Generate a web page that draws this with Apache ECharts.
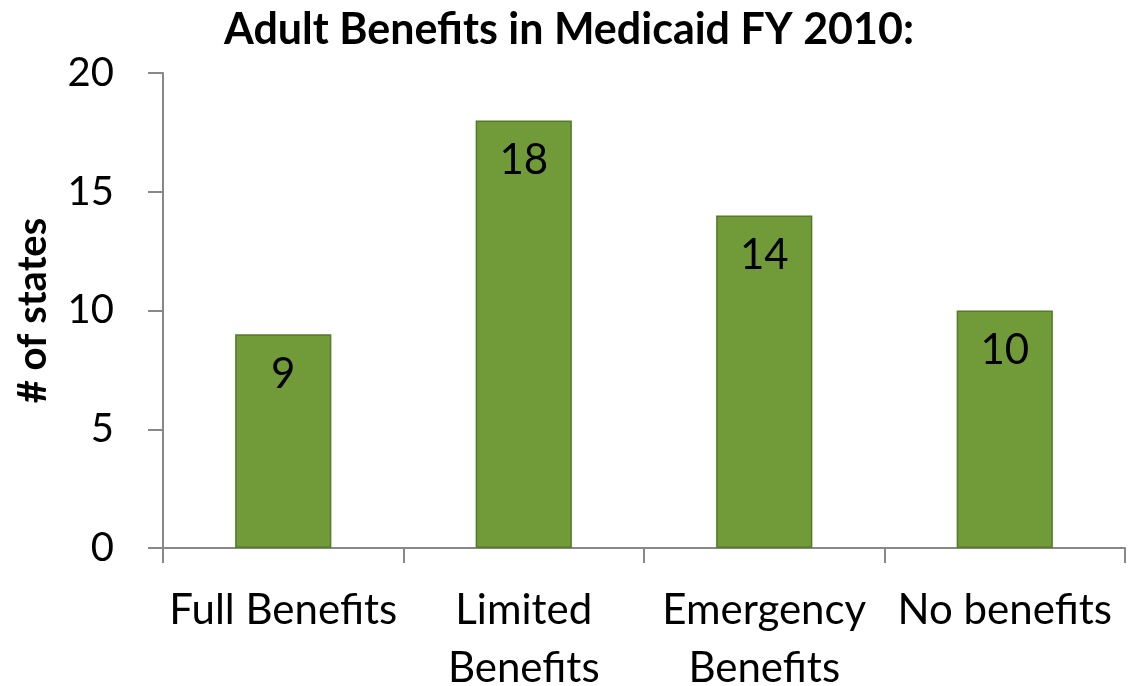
<!DOCTYPE html>
<html><head><meta charset="utf-8">
<script src="https://cdn.jsdelivr.net/npm/echarts@6/dist/echarts.min.js"></script>
<style>html,body{margin:0;padding:0;background:#fff}#c{width:1134px;height:686px}</style>
</head><body><div id="c"></div>
<script>
const categories = ['Full Benefits', 'Limited\nBenefits', 'Emergency\nBenefits', 'No benefits'];
const values = [9, 18, 14, 10];
const yTicks = [0, 5, 10, 15, 20];
const FONT = 'Lato, "Open Sans", sans-serif';
const chart = echarts.init(document.getElementById('c'));
chart.setOption({
  animation: false,
  title: { text: 'Adult Benefits in Medicaid FY 2010:', left: 564, textAlign: 'center', top: 4,
    textStyle: { fontFamily: FONT, fontWeight: 'bold', fontSize: 43, color: '#000' } },
  grid: { left: 163, right: 9, top: 73, bottom: 138, outerBoundsMode: 'none', containLabel: false },
  xAxis: { type: 'category', data: categories,
    axisLine: { lineStyle: { color: '#888', width: 2 } },
    axisTick: { show: true, length: 15, interval: 0, lineStyle: { color: '#888', width: 2 } },
    axisLabel: { interval: 0, margin: 33, fontFamily: FONT, fontSize: 42, color: '#000', lineHeight: 58 } },
  yAxis: { type: 'value', min: yTicks[0], max: yTicks[yTicks.length-1], interval: 5,
    name: '# of states', nameLocation: 'middle', nameGap: 110, nameRotate: 90,
    nameTextStyle: { fontFamily: FONT, fontWeight: 'bold', fontSize: 40, color: '#000' },
    splitLine: { show: false },
    axisLine: { show: true, lineStyle: { color: '#888', width: 2 } },
    axisTick: { show: true, length: 15, lineStyle: { color: '#888', width: 2 } },
    axisLabel: { margin: 49, fontFamily: FONT, fontSize: 40, color: '#000' } },
  series: [{ type: 'bar', data: values, barWidth: '40%',
    itemStyle: { color: '#709B38', borderColor: '#557a2a', borderWidth: 1.5 },
    label: { show: true, position: 'insideTop', distance: 19, fontFamily: FONT, fontSize: 42, color: '#000' } }]
});
</script></body></html>
